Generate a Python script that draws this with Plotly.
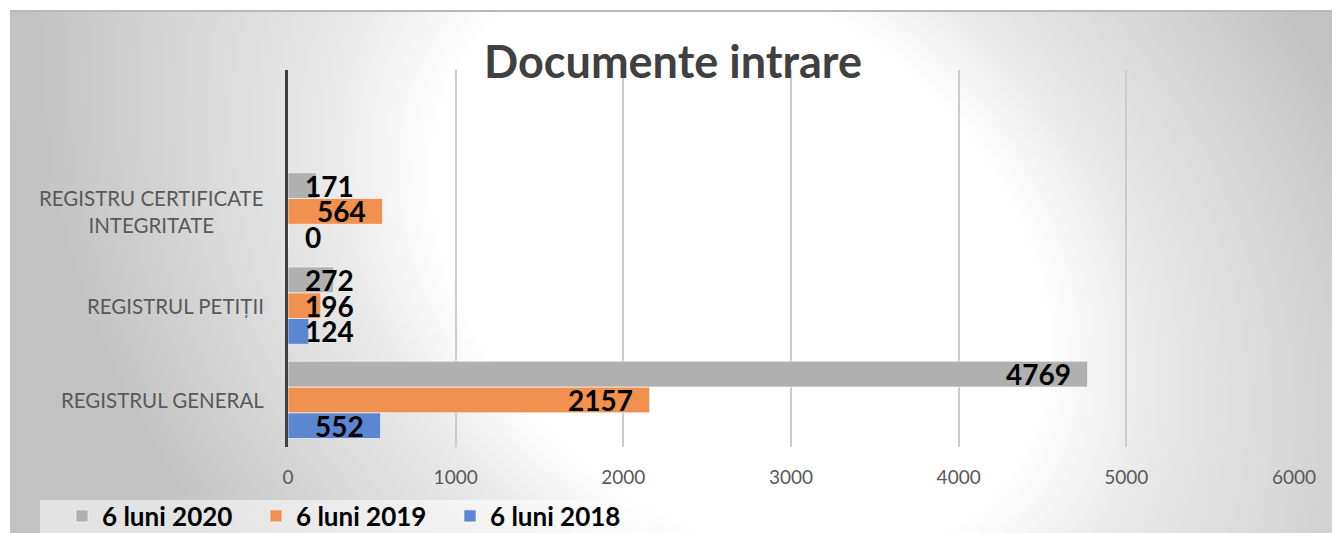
import base64
import plotly.graph_objects as go

# ---------------- data ----------------
categories = ["REGISTRUL GENERAL", "REGISTRUL PETIȚII", "REGISTRU CERTIFICATE INTEGRITATE"]
category_labels = ["REGISTRUL GENERAL", "REGISTRUL PETIȚII", "REGISTRU CERTIFICATE<br>INTEGRITATE"]
series_names = ["6 luni 2018", "6 luni 2019", "6 luni 2020"]
values_2018 = [552, 124, 0]
values_2019 = [2157, 196, 564]
values_2020 = [4769, 272, 171]
series_values = [values_2018, values_2019, values_2020]
series_colors = ["#5B86D1", "#F0914F", "#B0B0B0"]
x_ticks = [0, 1000, 2000, 3000, 4000, 5000, 6000]
title_text = "Documente intrare"

# ---------------- layout constants ----------------
OFF = 8                     # page body margin
PAGE_W, PAGE_H = 1340, 533
W, H = PAGE_W - OFF, PAGE_H - OFF
# plot area in page pixels: x 288..1294, y 70..447
ML = 288 - OFF
MT = 70 - OFF
MR = W - (1294 - OFF)
MB = H - (447 - OFF)
X_RANGE = [0, 6000]
BARGAP = 0.18
FONT = "Lato"
plot_w = W - ML - MR
plot_h = H - MT - MB
px_per_unit = plot_w / (X_RANGE[1] - X_RANGE[0])


def fx(px):  # page x -> figure x
    return px - OFF


def fy(py):
    return py - OFF


def paper_x(px):
    return (fx(px) - ML) / plot_w


def paper_y(py):
    return (H - MB - fy(py)) / plot_h


# background: skewed radial gradient (white centre, grey edges)
svg = f'''<svg xmlns="http://www.w3.org/2000/svg" width="{W}" height="{H}" viewBox="0 0 {W} {H}">
<defs>
<radialGradient id="g" gradientUnits="userSpaceOnUse" cx="0" cy="0" r="1"
 gradientTransform="translate({fx(740)} {fy(262)}) skewX(17) scale(700 700)">
<stop offset="0" stop-color="#ffffff"/>
<stop offset="0.42" stop-color="#ffffff"/>
<stop offset="0.55" stop-color="#ebebeb"/>
<stop offset="0.80" stop-color="#d3d3d3"/>
<stop offset="0.97" stop-color="#c3c3c3"/>
<stop offset="1" stop-color="#c2c2c2"/>
</radialGradient>
</defs>
<rect x="0" y="0" width="{W}" height="{H}" fill="#ffffff"/>
<rect x="{fx(10)}" y="{fy(10)}" width="1328" height="{H}" fill="url(#g)"/>
<rect x="{fx(10)}" y="{fy(10)}" width="1328" height="2" fill="#b9b9b9"/>
</svg>'''
bg_uri = "data:image/svg+xml;base64," + base64.b64encode(svg.encode("utf-8")).decode("ascii")

fig = go.Figure()
for name, vals, col in zip(series_names, series_values, series_colors):
    fig.add_trace(go.Bar(
        y=categories, x=vals, name=name, orientation="h",
        marker=dict(color=col, line=dict(color="rgba(255,255,255,0.6)", width=1)),
        hoverinfo="x+name",
    ))

# data labels
n_series = len(series_values)
bar_w = (1 - BARGAP) / n_series
label_font = dict(family=FONT, size=28, color="#000000", weight="bold")
annotations = []
for i, vals in enumerate(series_values):
    offset = (i - (n_series - 1) / 2) * bar_w
    for ci, v in enumerate(vals):
        label = str(v)
        text_w = len(label) * 16
        if v * px_per_unit > text_w + 34:
            annotations.append(dict(x=v, y=ci + offset, xref="x", yref="y", text=label,
                                    showarrow=False, xanchor="right", xshift=-15,
                                    font=label_font))
        else:
            annotations.append(dict(x=0, y=ci + offset, xref="x", yref="y", text=label,
                                    showarrow=False, xanchor="left", xshift=15,
                                    font=label_font))

# category labels
for ci, lab in enumerate(category_labels):
    annotations.append(dict(x=0, y=ci, xref="paper", yref="y", text=lab, showarrow=False,
                            xanchor="right", xshift=-22, align="center",
                            font=dict(family=FONT, size=20.5, color="#595959")))

fig.update_layout(
    width=W, height=H,
    margin=dict(l=ML, r=MR, t=MT, b=MB, pad=0, autoexpand=False),
    paper_bgcolor="#ffffff",
    plot_bgcolor="rgba(0,0,0,0)",
    barmode="group", bargap=BARGAP, bargroupgap=0,
    title=dict(text=title_text, x=fx(673) / W, xref="container", xanchor="center",
               y=1 - fy(62) / H, yref="container", yanchor="middle",
               font=dict(family=FONT, size=45, color="#404040", weight="bold")),
    xaxis=dict(range=X_RANGE, tickvals=x_ticks, ticktext=[str(t) for t in x_ticks],
               showgrid=True, gridcolor="#cccccc", gridwidth=1.5,
               zeroline=False, showline=False, ticks="",
               tickfont=dict(family=FONT, size=19, color="#595959"),
               ticklabelstandoff=17, fixedrange=True),
    yaxis=dict(type="category", categoryorder="array", categoryarray=categories,
               range=[-0.5, 3.5], showticklabels=False, showgrid=False,
               showline=True, linecolor="#404040", linewidth=3,
               zeroline=False, ticks="", fixedrange=True),
    showlegend=True,
    legend=dict(orientation="h", traceorder="reversed",
                x=paper_x(62), xanchor="left",
                y=paper_y(516), yanchor="middle",
                bgcolor="rgba(0,0,0,0)", borderwidth=0,
                font=dict(family=FONT, size=26, color="#000000", weight="bold"),
                entrywidth=149, entrywidthmode="pixels"),
    images=[dict(source=bg_uri, xref="paper", yref="paper",
                 x=paper_x(OFF), y=paper_y(OFF),
                 sizex=W / plot_w, sizey=H / plot_h,
                 xanchor="left", yanchor="top", sizing="stretch", layer="below")],
    shapes=[dict(type="rect", xref="paper", yref="paper",
                 x0=paper_x(40), x1=paper_x(648),
                 y0=paper_y(500), y1=paper_y(PAGE_H + 5),
                 fillcolor="rgba(255,255,255,0.55)", line=dict(width=0), layer="below")],
    annotations=annotations,
)

fig.write_html("out.html")
